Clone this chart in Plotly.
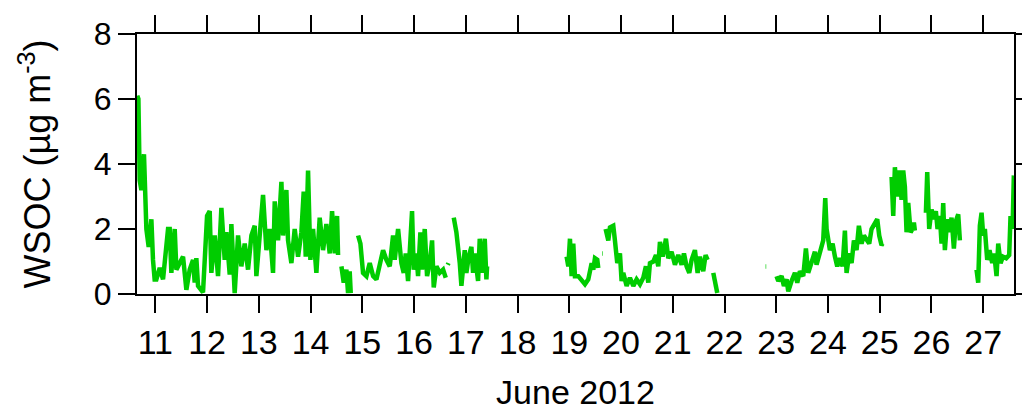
import plotly.graph_objects as go

# Time as fractional day of June 2012; None marks gaps in the record
day = [
    10.65, 10.672, 10.697, 10.730, 10.780, 10.807, 10.826, 10.871, 10.923, 10.954, 10.986,
    11.019, 11.084, 11.148, 11.213, 11.245, 11.277, 11.309, 11.374, 11.406, 11.470, 11.535,
    11.599, 11.664, 11.728, 11.760, 11.792, 11.825, 11.921, 11.999, 12.050, 12.082, 12.147,
    12.211, 12.276, 12.340, 12.372, 12.437, 12.469, 12.533, 12.598, 12.662, 12.727, 12.791,
    12.856, 12.920, 12.952, 13.017, 13.081, 13.146, 13.210, 13.274, 13.307, 13.371, 13.436,
    13.468, 13.532, 13.564, 13.629, 13.693, 13.758, 13.822, 13.867, 13.906, 13.951, 13.996,
    14.048, 14.112, 14.176, 14.241, 14.305, 14.370, 14.415, 14.467, 14.512, 14.531, None,
    14.596, 14.640, 14.692, 14.724, 14.756, 14.776, None,
    14.918, 14.963, 15.014, 15.079, 15.143, 15.208, 15.272, 15.336, 15.401, 15.465, 15.530,
    15.594, 15.626, 15.691, 15.755, 15.800, 15.839, 15.884, 15.929, 15.961, 15.993, 16.045,
    16.077, 16.122, 16.155, 16.206, 16.251, 16.303, 16.348, 16.380, 16.432, 16.496, 16.561,
    16.612, None,
    16.650, 16.665, None,
    16.767, 16.818, 16.883, 16.915, 16.979, 17.011, 17.057, 17.108, 17.140, 17.172, 17.237,
    17.269, 17.321, 17.366, 17.398, 17.411, None,
    18.948, 18.981, 19.013, 19.045, 19.077, 19.109, 19.174, 19.238, 19.303, 19.367, 19.432,
    19.464, 19.496, 19.541, 19.560, None,
    19.638, 19.650, None,
    19.702, 19.754, 19.786, 19.850, 19.882, 19.927, 19.979, 20.011, 20.043, 20.108, 20.172,
    20.237, 20.301, 20.366, 20.430, 20.481, 20.527, 20.559, 20.623, 20.675, 20.720, 20.752,
    20.804, 20.868, 20.913, 20.977, 21.042, 21.106, 21.171, 21.216, 21.267, 21.319, 21.364,
    21.428, 21.480, 21.525, 21.589, 21.634, 21.673, None,
    21.783, 21.860, None,
    22.794, 22.806, None,
    23.006, 23.039, 23.103, 23.148, 23.200, 23.232, 23.296, 23.361, 23.406, 23.457, 23.522,
    23.573, 23.618, 23.683, 23.747, 23.779, 23.844, 23.908, 23.947, 23.973, 24.037, 24.089,
    24.134, 24.179, 24.230, 24.282, 24.327, 24.359, 24.411, 24.456, 24.501, 24.552, 24.597,
    24.649, 24.694, 24.745, 24.797, 24.842, 24.906, 24.952, 24.990, 25.035, 25.055, None,
    25.229, 25.261, 25.293, 25.338, 25.377, 25.422, 25.454, 25.486, 25.518, 25.551, 25.596,
    25.634, 25.660, 25.679, None,
    25.892, 25.918, 25.956, 26.002, 26.047, 26.085, 26.117, 26.162, 26.195, 26.227, 26.259,
    26.304, 26.343, 26.388, 26.433, 26.472, 26.517, 26.549, None,
    26.871, 26.903, 26.935, 26.968, 27.000, 27.032, 27.077, 27.122, 27.174, 27.212, 27.258,
    27.290, 27.335, 27.380, 27.445, 27.502, 27.528, 27.567, 27.592,
]

wsoc = [
    6.1, 6.0, 3.5, 3.2, 4.3, 2.9, 2.0, 1.45, 2.3, 1.05, 0.45,
    0.45, 0.8, 0.45, 1.5, 2.0, 2.0, 0.65, 2.0, 0.75, 0.95, 1.15,
    0.13, 0.75, 1.05, 0.35, 1.1, 0.25, 0.05, 2.4, 2.55, 0.65, 1.8,
    0.55, 2.65, 1.05, 1.9, 0.6, 2.15, 0.03, 1.8, 0.85, 1.55, 0.75,
    1.8, 2.1, 0.55, 1.65, 3.05, 1.35, 2.0, 0.65, 2.85, 1.65, 3.45,
    1.8, 3.2, 1.65, 0.95, 2.0, 1.15, 1.9, 3.15, 1.15, 3.8, 1.05,
    2.0, 0.65, 2.35, 1.35, 2.15, 1.25, 2.55, 1.25, 2.4, 1.2, None,
    0.85, 0.35, 0.75, 0.03, 0.7, 0.03, None,
    1.8, 1.55, 0.65, 0.55, 0.95, 0.55, 0.45, 0.95, 1.35, 1.05, 0.85,
    1.8, 1.05, 2.0, 0.95, 0.65, 1.25, 0.4, 1.65, 2.55, 0.75, 1.25,
    0.55, 1.9, 0.75, 2.0, 0.55, 0.95, 1.65, 0.2, 0.85, 0.65, 0.75,
    0.5, None,
    0.9, 0.95, None,
    2.35, 1.9, 0.95, 0.25, 1.35, 0.65, 1.15, 1.45, 0.65, 1.25, 0.4,
    1.7, 0.65, 1.7, 0.45, 0.85, None,
    1.15, 0.85, 1.7, 0.55, 1.55, 0.55, 0.55, 0.4, 0.3, 0.45, 0.95,
    0.75, 1.1, 1.05, 0.8, None,
    1.25, 1.25, None,
    2.0, 1.65, 2.05, 2.1, 1.65, 0.95, 1.25, 0.4, 0.65, 0.25, 0.5,
    0.25, 0.45, 0.3, 0.5, 0.85, 0.35, 0.95, 1.0, 1.2, 0.85, 1.6,
    1.15, 1.7, 1.1, 1.3, 0.9, 1.2, 0.9, 1.25, 0.85, 0.65, 1.05,
    1.35, 0.65, 1.15, 0.7, 1.2, 1.05, None,
    0.65, 0.03, None,
    0.85, 0.85, None,
    0.55, 0.4, 0.55, 0.25, 0.45, 0.08, 0.4, 0.65, 0.35, 0.7, 0.55,
    1.4, 0.65, 0.95, 1.3, 0.9, 1.35, 1.65, 2.95, 2.0, 1.35, 1.55,
    1.15, 0.85, 1.1, 0.85, 1.95, 0.65, 1.25, 0.95, 1.65, 1.35, 2.1,
    1.55, 1.8, 1.65, 1.55, 2.0, 2.2, 2.3, 1.8, 1.5, 1.55, None,
    3.6, 2.4, 3.9, 3.0, 3.8, 2.9, 3.8, 3.3, 1.9, 2.8, 1.9,
    2.0, 2.2, 1.95, None,
    2.5, 3.75, 2.0, 2.6, 2.3, 2.55, 2.0, 2.4, 1.55, 2.8, 1.35,
    2.3, 1.9, 2.35, 1.4, 2.25, 2.45, 1.65, None,
    0.75, 0.35, 2.1, 2.5, 1.8, 2.0, 1.05, 1.35, 0.95, 1.25, 0.55,
    1.55, 0.95, 1.15, 1.1, 1.2, 2.4, 2.0, 3.65,
]

x_tick_days = list(range(11, 28))
x_tick_labels = [str(d) for d in x_tick_days]
y_tick_vals = [0, 2, 4, 6, 8]

FONT = "Liberation Sans, Arial, sans-serif"

fig = go.Figure()
fig.add_trace(go.Scatter(
    x=day, y=wsoc, mode="lines", connectgaps=False,
    line=dict(color="rgb(0,204,0)", width=4.5),
    showlegend=False,
))

axis_common = dict(
    showline=True, linecolor="black", linewidth=2,
    ticks="outside", ticklen=17, tickwidth=2, tickcolor="black",
    mirror="ticks", showgrid=False, zeroline=False, automargin=False,
)

fig.update_layout(
    width=1022, height=411,
    margin=dict(l=137, r=8, t=34, b=117),
    paper_bgcolor="white", plot_bgcolor="white",
    font=dict(family=FONT, color="black"),
    xaxis=dict(
        range=[10.645, 27.595],
        tickmode="array", tickvals=x_tick_days, ticktext=x_tick_labels,
        tickfont=dict(size=34, family=FONT),
        title=dict(text="June 2012", font=dict(size=34, family=FONT), standoff=25),
        **axis_common,
    ),
    yaxis=dict(
        range=[0, 8],
        tickmode="array", tickvals=y_tick_vals,
        tickfont=dict(size=32, family=FONT),
        title=dict(text="WSOC (µg m<sup>-3</sup>)", font=dict(size=36, family=FONT), standoff=32),
        **axis_common,
    ),
)

fig.write_html("out.html")
